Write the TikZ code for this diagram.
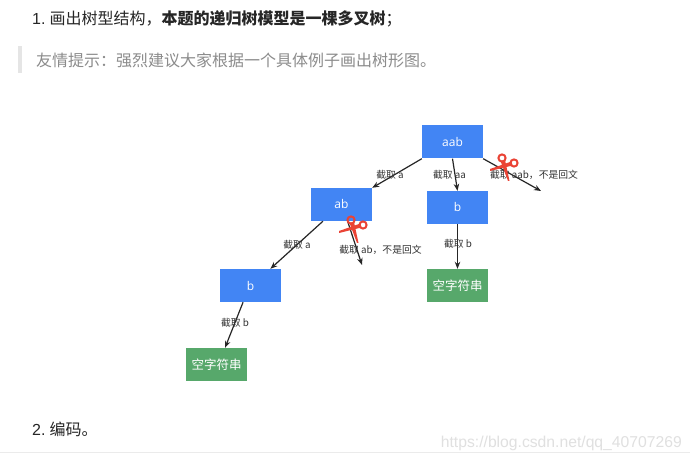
\documentclass[tikz,border=0pt]{standalone}
\usepackage{fontspec}
\setmainfont{Liberation Sans}
\newfontfamily\cjk{Noto Sans CJK SC}
\newfontfamily\boxfont{Open Sans}
\usepackage{tikz}
\usetikzlibrary{arrows.meta}
\definecolor{boxblue}{HTML}{4285F4}
\definecolor{boxgreen}{HTML}{57A86B}
\definecolor{scissred}{HTML}{EA4335}
\tikzset{
    treebox/.style={minimum width=61pt,minimum height=33pt,inner sep=0pt,text=white,font=\boxfont\fontsize{12}{14}\selectfont},
    bluebox/.style={treebox,fill=boxblue},
    greenbox/.style={treebox,fill=boxgreen,font=\cjk\fontsize{12.5}{14}\selectfont},
    edgelabel/.style={inner sep=0pt,text=black!80,font=\cjk\fontsize{9.8}{11}\selectfont},
    line/.style={inner sep=0pt,anchor=west,font=\fontsize{16}{18}\selectfont},
    edge/.style={-{Stealth[length=7pt,width=5.5pt]},black!85,line width=1.2pt},
    scissors/.pic={
      \draw[scissred,line width=2pt] (-4,-8) circle (3.6);
      \draw[scissred,line width=2pt] (8,-3) circle (3.6);
      \fill[scissred] (-5.5,-5) -- (-1,-6) -- (3.5,15) -- (2,15) -- cycle;
      \fill[scissred] (5.5,-4.5) -- (6.5,-0.5) -- (-16,5) -- (-16,3) -- cycle;
    }
}
\begin{document}
\begin{tikzpicture}[x=1pt,y=-1pt]
      \useasboundingbox (0,0) rectangle (690,462);
      \fill[white] (0,0) rectangle (690,462);
      \node[line,text=black!85] (first) at (32,19) {1.\hspace{4pt}{\cjk 画出树型结构，\bfseries 本题的递归树模型是一棵多叉树}{\cjk ；}};
      \fill[black!10] (18,46) rectangle (22,73);
      \node[line,text=black!45] (hint) at (36,60) {\cjk 友情提示：强烈建议大家根据一个具体例子画出树形图。};
      \node[bluebox] (aab) at (452.5,142) {aab};
      \node[bluebox] (ab) at (341.5,204.5) {ab};
      \node[bluebox] (bmid) at (457.5,207.5) {b};
      \node[bluebox] (bleft) at (250.5,285.5) {b};
      \node[greenbox] (emptymid) at (457.5,285.5) {空字符串};
      \node[greenbox] (emptyleft) at (216.5,364.5) {空字符串};
      \coordinate (cutaab) at (541,191);
      \coordinate (cutab) at (362,265);
      \draw[edge] (aab.south west) -- (ab.north east);
      \draw[edge] (aab.south) -- (bmid.north);
      \draw[edge] (aab.south east) -- (cutaab);
      \draw[edge] (ab.-70) -- (cutab);
      \draw[edge] (ab.-138) -- (bleft.40);
      \draw[edge] (bleft.-114) -- (emptyleft.63);
      \draw[edge] (bmid.south) -- (emptymid.north);
      \node[edgelabel] (cuta) at (390,175) {截取 a};
      \node[edgelabel] (cutaa) at (449.5,175) {截取 aa};
      \node[edgelabel] (cutaabtext) at (534,175) {截取 aab，不是回文};
      \node[edgelabel] (cutaleft) at (297,245) {截取 a};
      \node[edgelabel] (cutabtext) at (380.5,250) {截取 ab，不是回文};
      \node[edgelabel] (cutbmid) at (458,244) {截取 b};
      \node[edgelabel] (cutbleft) at (235,323) {截取 b};
      \pic at (506,166) {scissors};
      \pic at (355,228) {scissors};
      \node[line,text=black!85] (second) at (32,429) {2.\hspace{4pt}{\cjk 编码。}};
      \node[inner sep=0pt,anchor=east,text=black!12,font=\fontsize{15.7}{20}\selectfont] (mark) at (682,443) {https://blog.csdn.net/qq\_40707269};
      \draw[black!8,line width=0.6pt] (0,452) -- (690,452);
\end{tikzpicture}
\end{document}
